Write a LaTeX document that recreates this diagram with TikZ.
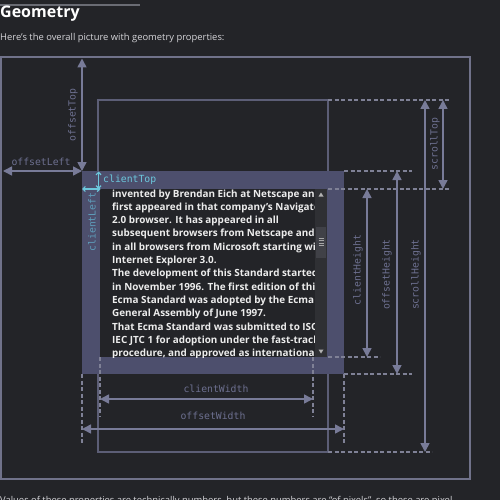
\documentclass[tikz,border=0pt]{standalone}
\usepackage{fontspec}
\setmainfont{Open Sans}
\setmonofont{DejaVu Sans Mono}
\usetikzlibrary{arrows.meta}
\definecolor{bgc}{HTML}{232428}
\definecolor{outerc}{HTML}{70728A}
\definecolor{scrollc}{HTML}{5C5E76}
\definecolor{elemc}{HTML}{4D4F6D}
\definecolor{sbarc}{HTML}{2F3034}
\definecolor{thumbc}{HTML}{404147}
\definecolor{arrc}{HTML}{787B98}
\definecolor{lblc}{HTML}{6D7090}
\definecolor{dashc}{HTML}{7F8196}
\definecolor{cyanc}{HTML}{6CC7DC}
\definecolor{cyanb}{HTML}{5E9DBA}
\definecolor{txtc}{HTML}{ECECEC}
\definecolor{subc}{HTML}{D4D4D8}
\definecolor{barc}{HTML}{6A6C74}
\tikzset{
  dim/.style={draw=arrc, line width=1.6pt, {Triangle[length=9pt,width=9pt]}-{Triangle[length=9pt,width=9pt]}},
  cdim/.style={draw=cyanc, line width=1.2pt, {Straight Barb[length=2.5pt,width=5pt]}-{Straight Barb[length=2.5pt,width=5pt]}},
  dline/.style={draw=dashc, line width=1.2pt, dash pattern=on 4pt off 2.5pt},
  lbl/.style={text=lblc, font=\ttfamily\fontsize{9.8}{11}\selectfont, inner sep=0pt},
  para/.style={text=txtc, font=\bfseries\fontsize{9.9}{13}\selectfont, inner sep=0pt, anchor=base west},
  prose/.style={text=subc, font=\fontsize{9.4}{12}\selectfont, inner sep=0pt, anchor=base west},
}
\begin{document}
\begin{tikzpicture}[x=1pt,y=-1pt]
\useasboundingbox (0,0) rectangle (500,500);
\clip (0,0) rectangle (500,500);
\fill[bgc] (0,0) rectangle (500,500);
% top bar
\fill[barc] (0,4) rectangle (140,6.5);
% heading texts
\node[text=white, font=\bfseries\fontsize{16}{18}\selectfont, inner sep=0pt, anchor=base west] (title) at (0,18) {Geometry};
\node[prose] (intro) at (0,41) {Here’s the overall picture with geometry properties:};
\node[prose] (outro) at (0,503.5) {Values of these properties are technically numbers, but these numbers are “of pixels”, so these are pixel};

% outer box and scroll box
\draw[outerc, line width=1.6pt] (0.8,57) rectangle (470,479);
\draw[scrollc, line width=1.3pt] (98,100) rectangle (328,452);

% element with border
\fill[elemc] (82,171) rectangle (344,374);
\fill[bgc] (100,189) rectangle (327,357);
\begin{scope}
\clip (100,189) rectangle (315,357);
\foreach \t [count=\i] in {
 {invented by Brendan Eich at Netscape and},
 {first appeared in that company’s Navigator},
 {2.0 browser. It has appeared in all},
 {subsequent browsers from Netscape and},
 {in all browsers from Microsoft starting with},
 {Internet Explorer 3.0.},
 {The development of this Standard started},
 {in November 1996. The first edition of this},
 {Ecma Standard was adopted by the Ecma},
 {General Assembly of June 1997.},
 {That Ecma Standard was submitted to ISO/},
 {IEC JTC 1 for adoption under the fast-track},
 {procedure, and approved as international}}
 \node[para] (p\i) at (112,{197+13.33*(\i-1)}) {\t};
\end{scope}
% scrollbar
\fill[sbarc] (315,189) rectangle (327,357);
\fill[thumbc] (316,227) rectangle (326,258);
\foreach \yy in {238,240.5,243,245.5} \draw[gray!70, line width=0.6pt] (318.5,\yy) -- (323.5,\yy);
\fill[gray!60] (318.5,196.5) -- (323.5,196.5) -- (321,192.5) -- cycle;
\fill[gray!60] (318.5,349.5) -- (323.5,349.5) -- (321,353.5) -- cycle;

% key coordinates
\coordinate (elTL) at (82,171);
\coordinate (elTR) at (344,171);
\coordinate (elBL) at (82,374);
\coordinate (elBR) at (344,374);
\coordinate (clTL) at (100,189);
\coordinate (clTR) at (327,189);
\coordinate (clBL) at (100,357);
\coordinate (clBR) at (313,357);
\coordinate (scTR) at (328,100);
\coordinate (scBR) at (328,452);

% dashed guide lines
\draw[dline] (scTR) -- (450,100);
\draw[dline] (elTR) -- (412,171);
\draw[dline] (328,189) -- (450,189);
\draw[dline] (328,357) -- (380,357);
\draw[dline] (elBR) -- (412,374);
\draw[dline] (scBR) -- (432,452);
\draw[dline] (elBL) -- (82,445);
\draw[dline] (clBL) -- (100,417);
\draw[dline] (clBR) -- (313,417);
\draw[dline] (elBR) -- (344,445);

% dimension arrows
\coordinate (oLa) at (3,171);
\coordinate (oTa) at (82,58.5);
\draw[dim] (oLa) -- (elTL);
\draw[dim] (oTa) -- (elTL);
\coordinate (cWa) at (100,399);
\coordinate (cWb) at (313,399);
\draw[dim] (cWa) -- (cWb);
\coordinate (oWa) at (82,429);
\coordinate (oWb) at (344,429);
\draw[dim] (oWa) -- (oWb);
\coordinate (cHa) at (367,189);
\coordinate (cHb) at (367,357);
\draw[dim] (cHa) -- (cHb);
\coordinate (oHa) at (397,171);
\coordinate (oHb) at (397,374);
\draw[dim] (oHa) -- (oHb);
\coordinate (sHa) at (425,100);
\coordinate (sHb) at (425,452);
\draw[dim] (sHa) -- (sHb);
\coordinate (sTa) at (443,100);
\coordinate (sTb) at (443,189);
\draw[dim] (sTa) -- (sTb);

% client border arrows
\coordinate (cTa) at (98.5,171.5);
\coordinate (cTb) at (98.5,189);
\draw[cdim] (cTa) -- (cTb);
\coordinate (cLa) at (82,189);
\coordinate (cLb) at (100.5,189);
\draw[cdim] (cLa) -- (cLb);

% labels
\node[lbl] (lOL) at (41,162) {offsetLeft};
\node[lbl, rotate=90] (lOT) at (73,115) {offsetTop};
\node[lbl, text=cyanc, anchor=west] (lCT) at (103,179.5) {clientTop};
\node[lbl, text=cyanb, rotate=90] (lCL) at (92,222) {clientLeft};
\node[lbl] (lCW) at (216,389) {clientWidth};
\node[lbl] (lOW) at (213,416) {offsetWidth};
\node[lbl, rotate=90] (lCH) at (358,270) {clientHeight};
\node[lbl, rotate=90] (lOH) at (387,274.5) {offsetHeight};
\node[lbl, rotate=90] (lSH) at (416,274.5) {scrollHeight};
\node[lbl, rotate=90] (lST) at (435,144) {scrollTop};
\end{tikzpicture}
\end{document}
